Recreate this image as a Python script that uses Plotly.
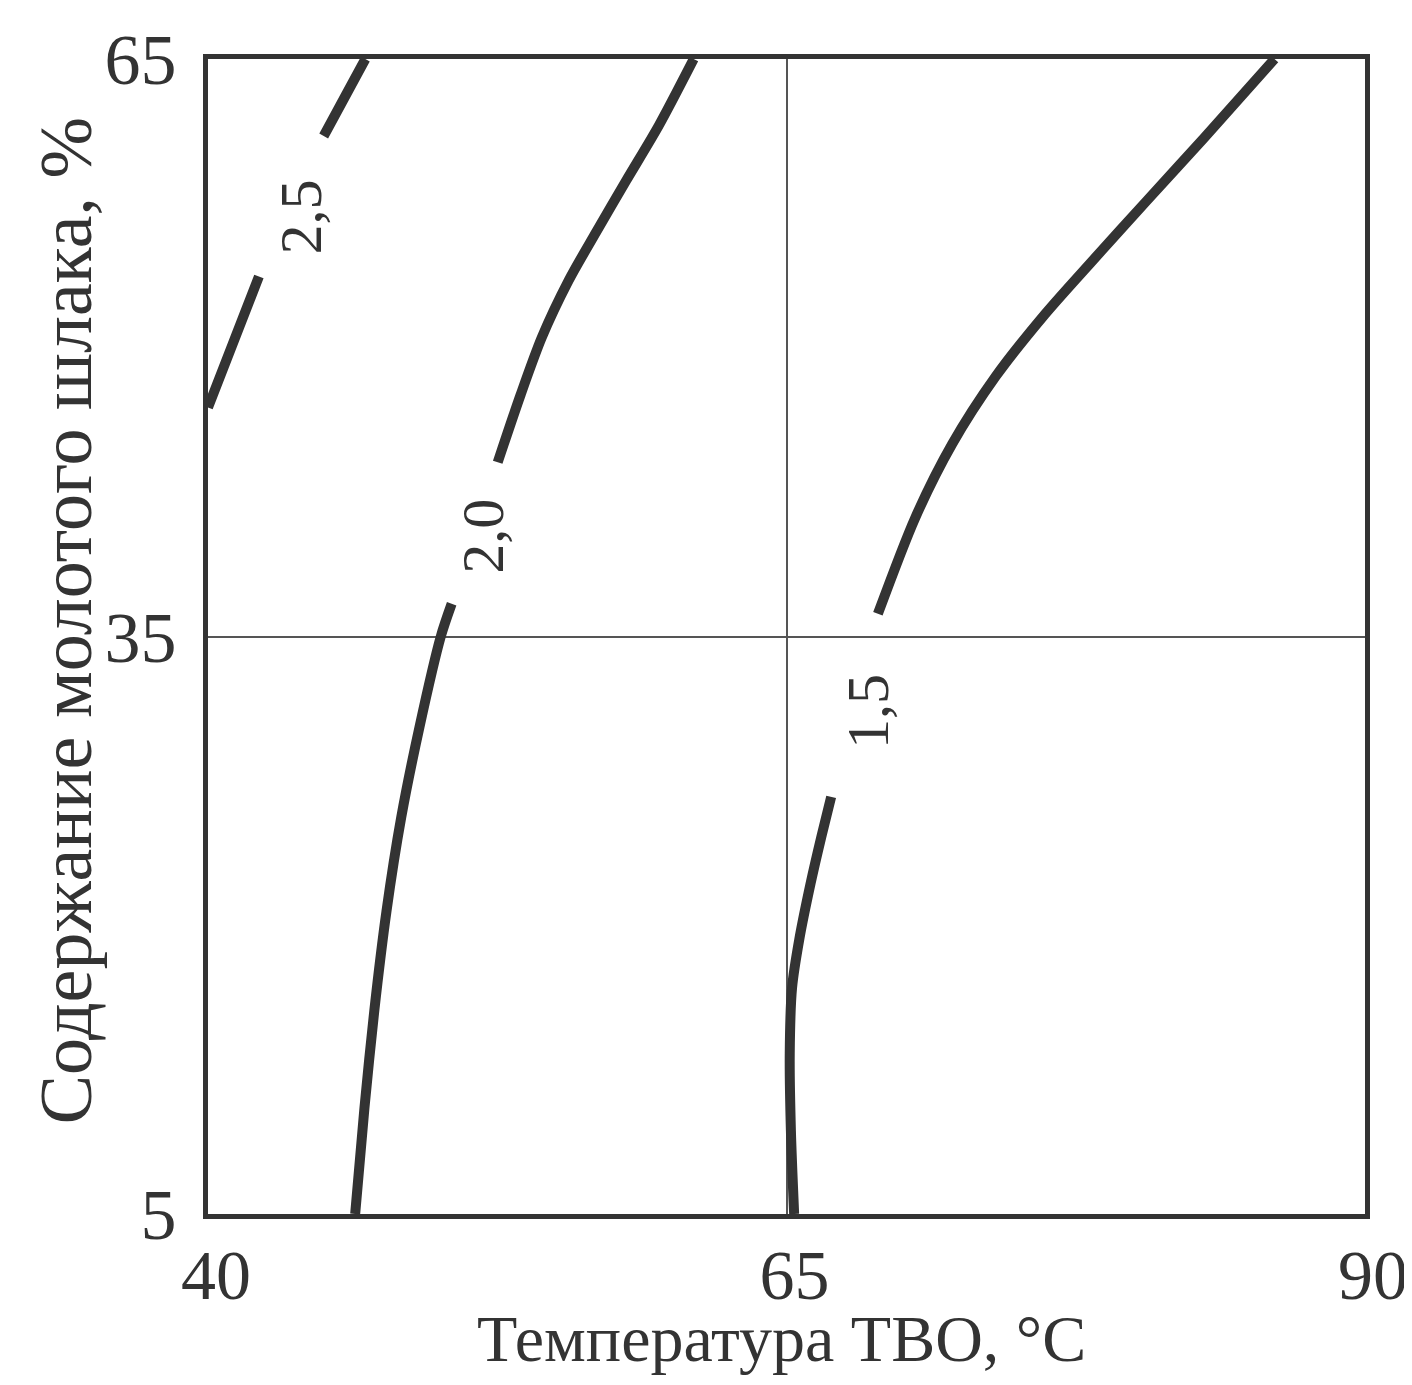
import plotly.graph_objects as go

# ---- data ----
# Temperature of heat-moisture treatment, °C (x) vs ground slag content, % (y)
# isolines labelled 2,5 / 2,0 / 1,5 ; None = gap left for the isoline label
t_25 = [40.0, 41.1, 42.2, None, 45.0, 45.9, 46.8]
s_25 = [46.9, 50.3, 53.7, None, 61.0, 63.0, 65.0]

t_20 = [46.36, 46.76, 47.19, 47.71, 48.35, 49.14, 50.06, 50.53, None,
        52.52, 53.51, 54.43, 55.58, 56.77, 58.08, 59.48, 60.99]
s_20 = [5.0, 10.5, 15.6, 20.7, 25.6, 30.3, 35.0, 36.7, None,
        44.05, 47.56, 50.55, 53.48, 56.0, 58.7, 61.54, 65.0]

t_15 = [65.33, 65.19, 65.14, 65.24, 65.56, 66.04, 66.51, 66.93, None,
        68.95, 70.56, 72.16, 74.04, 76.16, 78.23, 80.58, 83.03, 86.09]
s_15 = [5.0, 9.33, 13.33, 16.75, 19.32, 22.17, 24.62, 26.67, None,
        36.18, 41.16, 45.0, 48.51, 51.73, 54.53, 57.65, 60.88, 65.0]

iso_labels = ["2,5", "2,0", "1,5"]
iso_label_t = [44.0, 51.9, 68.5]
iso_label_s = [56.8, 40.2, 31.1]

x_ticks = [40, 65, 90]
y_ticks = [5, 35, 65]
x_title = "Температура ТВО, °С"
y_title = "Содержание молотого шлака, %"

INK = "#333333"
FONT = "Liberation Serif, Times New Roman, serif"

fig = go.Figure()
for tx, sy in [(t_25, s_25), (t_20, s_20), (t_15, s_15)]:
    fig.add_trace(go.Scatter(
        x=tx, y=sy, mode="lines", connectgaps=False,
        line=dict(color=INK, width=10, shape="spline", smoothing=0.8),
        showlegend=False, hoverinfo="skip"))

for lab, lx, ly in zip(iso_labels, iso_label_t, iso_label_s):
    fig.add_annotation(x=lx, y=ly, text=lab, showarrow=False, textangle=-90,
                       font=dict(family=FONT, size=60, color=INK))

# axis titles
fig.add_annotation(text=x_title, xref="paper", yref="paper", x=0.5, y=0,
                   xanchor="center", yanchor="top", xshift=-5, yshift=-86,
                   showarrow=False, font=dict(family=FONT, size=66, color=INK))
fig.add_annotation(text=y_title, xref="paper", yref="paper", x=0, y=0.514,
                   xanchor="center", yanchor="middle", xshift=-142, textangle=-90,
                   showarrow=False, font=dict(family=FONT, size=74, color=INK))

fig.update_layout(
    width=1412, height=1385,
    margin=dict(l=200, r=52, t=47, b=179),
    paper_bgcolor="white", plot_bgcolor="white",
    font=dict(family=FONT, color=INK),
)
fig.update_xaxes(
    range=[40, 90], tickvals=x_ticks, ticktext=[str(v) for v in x_ticks],
    tickfont=dict(size=70, family=FONT, color=INK),
    ticks="", ticklabelstandoff=-4, ticklabelshift=8,
    showline=True, linewidth=5, linecolor=INK, mirror=True,
    showgrid=True, gridcolor="#555555", gridwidth=1.5, zeroline=False,
)
fig.update_yaxes(
    range=[5, 65], tickvals=y_ticks, ticktext=[str(v) for v in y_ticks],
    tickfont=dict(size=72, family=FONT, color=INK),
    ticks="", ticklabelstandoff=12,
    showline=True, linewidth=5, linecolor=INK, mirror=True,
    showgrid=True, gridcolor="#555555", gridwidth=1.5, zeroline=False,
)

fig.write_html("out.html")
